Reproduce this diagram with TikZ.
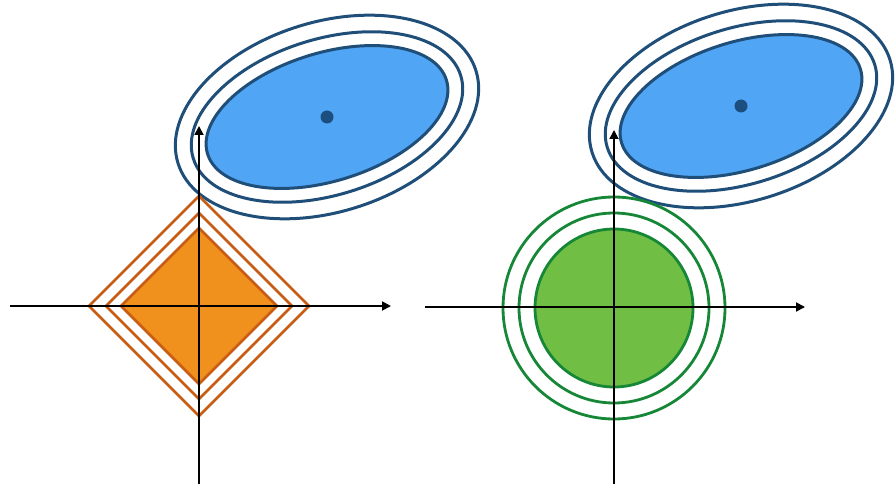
\documentclass[tikz,border=0pt]{standalone}
\usepackage{tikz,xcolor}
\usetikzlibrary{arrows.meta}

\definecolor{ringblue}{RGB}{31,78,121}
\definecolor{fillblue}{RGB}{80,165,245}
\definecolor{dotblue}{RGB}{28,78,128}
\definecolor{ringorange}{RGB}{200,92,18}
\definecolor{fillorange}{RGB}{240,145,30}
\definecolor{ringgreen}{RGB}{22,135,55}
\definecolor{fillgreen}{RGB}{112,190,68}

\begin{document}
\begin{tikzpicture}[x=1pt, y=-1pt,
    axis/.style={-{Triangle[length=9pt,width=9pt]}, line width=1.8pt, black},
    bluering/.style={draw=ringblue, line width=3pt},
    orangering/.style={draw=ringorange, line width=2.8pt, line join=miter},
    greenring/.style={draw=ringgreen, line width=2.8pt}]

    \useasboundingbox (0,0) rectangle (896,489);

    % Left: loss contours
    \begin{scope}[rotate around={17.2:(327,117)}]
        \draw[bluering] (327,117) ellipse [x radius=156pt, y radius=95pt];
        \draw[bluering] (327,117) ellipse [x radius=140pt, y radius=78pt];
        \draw[bluering, fill=fillblue] (327,117) ellipse [x radius=125pt, y radius=64pt];
    \end{scope}
    \fill[dotblue] (327,117) circle [radius=6.5pt];

    % Left: diamond constraint
    \draw[orangering] (199,196) -- (309,306) -- (199,416) -- (89,306) -- cycle;
    \draw[orangering] (199,213) -- (292,306) -- (199,399) -- (106,306) -- cycle;
    \draw[orangering, fill=fillorange] (199,228) -- (277,306) -- (199,384) -- (121,306) -- cycle;

    % Left axes
    \coordinate (lx0) at (10,306);
    \coordinate (lx1) at (391,306);
    \coordinate (ly0) at (199,484);
    \coordinate (ly1) at (199,126);
    \draw[axis] (lx0) -- (lx1);
    \draw[axis] (ly0) -- (ly1);

    % Right: loss contours
    \begin{scope}[rotate around={17.2:(741,106)}]
        \draw[bluering] (741,106) ellipse [x radius=156pt, y radius=95pt];
        \draw[bluering] (741,106) ellipse [x radius=140pt, y radius=78pt];
        \draw[bluering, fill=fillblue] (741,106) ellipse [x radius=125pt, y radius=64pt];
    \end{scope}
    \fill[dotblue] (741,106) circle [radius=6.5pt];

    % Right: circle constraint
    \draw[greenring] (614,308) circle [radius=111pt];
    \draw[greenring] (614,308) circle [radius=95pt];
    \draw[greenring, fill=fillgreen] (614,308) circle [radius=79pt];

    % Right axes
    \coordinate (rx0) at (425,307);
    \coordinate (rx1) at (805,307);
    \coordinate (ry0) at (614,484);
    \coordinate (ry1) at (614,130);
    \draw[axis] (rx0) -- (rx1);
    \draw[axis] (ry0) -- (ry1);

\end{tikzpicture}
\end{document}
